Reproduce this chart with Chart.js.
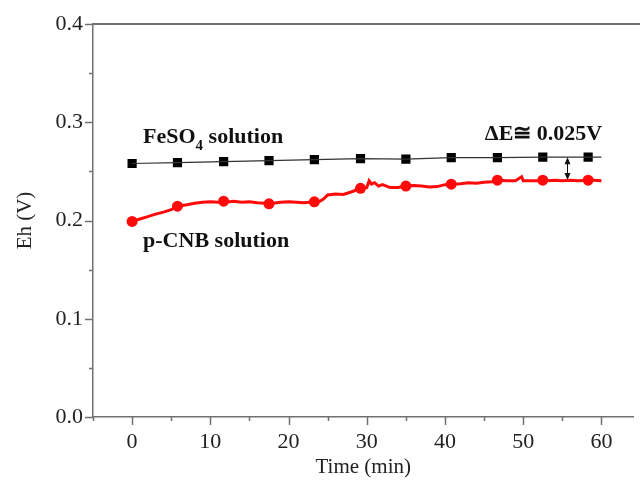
<!DOCTYPE html>
<html>
<head>
<meta charset="utf-8">
<script src="https://cdn.jsdelivr.net/npm/chart.js@4.4.1/dist/chart.umd.min.js"></script>
<style>
  html, body { margin: 0; padding: 0; background: #fff; }
</style>
</head>
<body>
<canvas id="grafico" width="640" height="482"></canvas>
<script>
// Datos
const feTime = [0, 5.8, 11.7, 17.5, 23.3, 29.2, 35, 40.8, 46.7, 52.5, 58.3];
const feEh = [0.258, 0.259, 0.260, 0.261, 0.262, 0.263, 0.2625, 0.264, 0.264, 0.2645, 0.2645];
const feLineTime = [0, 5.8, 11.7, 17.5, 23.3, 29.2, 35, 40.8, 46.7, 52.5, 58.3, 60];
const feLineEh = [0.258, 0.259, 0.260, 0.261, 0.262, 0.263, 0.2625, 0.264, 0.264, 0.2645, 0.2645, 0.2645];

const cnbMarkTime = [0, 5.8, 11.7, 17.5, 23.3, 29.2, 35, 40.8, 46.7, 52.5, 58.3];
const cnbMarkEh = [0.199, 0.2146, 0.2197, 0.217, 0.219, 0.2327, 0.235, 0.237, 0.241, 0.241, 0.241];

const cnbTraceTime = [0, 1, 2, 3, 4, 5, 5.8, 7, 8, 9, 10, 11, 11.7, 12.5, 13, 14, 15, 16, 17, 17.5,
  18.5, 19, 20, 21, 22, 23.3, 24, 24.5, 25, 26, 27, 28, 29.2, 30, 30.3, 30.6, 31, 31.5, 32, 33,
  34, 35, 36, 37, 38, 39, 40, 40.8, 42, 43, 44, 45, 46, 46.7, 48, 49, 49.8, 50, 51, 52,
  52.5, 53, 54, 55, 56, 57, 58.3, 59, 60];
const cnbTraceEh = [0.199, 0.2015, 0.204, 0.2065, 0.2085, 0.211, 0.2146, 0.216, 0.2175, 0.2185, 0.219, 0.2185, 0.2197, 0.219, 0.2195, 0.2185, 0.219, 0.218, 0.2175, 0.217,
  0.218, 0.2185, 0.219, 0.2185, 0.218, 0.219, 0.2195, 0.222, 0.226, 0.227, 0.2265, 0.229, 0.2327, 0.2335, 0.2405, 0.237, 0.2385, 0.235, 0.2365, 0.2335,
  0.2335, 0.235, 0.2355, 0.235, 0.234, 0.2345, 0.2365, 0.237, 0.2375, 0.2385, 0.238, 0.239, 0.2395, 0.241, 0.2405, 0.2405, 0.2445, 0.2405, 0.2405, 0.2405,
  0.241, 0.2405, 0.241, 0.2405, 0.241, 0.2405, 0.241, 0.241, 0.2405];

const xTicks = [-5, 0, 5, 10, 15, 20, 25, 30, 35, 40, 45, 50, 55, 60];
const yTicks = [0, 0.05, 0.1, 0.15, 0.2, 0.25, 0.3, 0.35, 0.4];

const serif = "'Liberation Serif', 'DejaVu Serif', serif";
const ejeColor = "#707070";

function pares(xs, ys) {
  return xs.map((x, i) => ({ x: x, y: ys[i] }));
}

// Plugin para marcas de eje y textos
const extras = {
  id: "extras",
  afterDraw(chart) {
    const ctx = chart.ctx;
    const xs = chart.scales.x, ys = chart.scales.y;
    const area = chart.chartArea;
    ctx.save();
    ctx.strokeStyle = ejeColor;
    ctx.lineWidth = 1.5;
    // marcas eje x
    xTicks.forEach(v => {
      const px = Math.round(xs.getPixelForValue(v)) + 0.5;
      const len = (v % 10 === 0) ? 8 : 4;
      ctx.beginPath();
      ctx.moveTo(px, area.bottom);
      ctx.lineTo(px, area.bottom + len);
      ctx.stroke();
    });
    // marcas eje y
    yTicks.forEach(v => {
      const py = Math.round(ys.getPixelForValue(v)) + 0.5;
      const major = Math.abs(v * 10 - Math.round(v * 10)) < 1e-6;
      const len = major ? 8 : 4;
      ctx.beginPath();
      ctx.moveTo(area.left, py);
      ctx.lineTo(area.left - len, py);
      ctx.stroke();
    });
    // borde superior
    ctx.lineWidth = 2;
    ctx.beginPath();
    ctx.moveTo(area.left, area.top);
    ctx.lineTo(chart.width, area.top);
    ctx.stroke();

    // textos
    ctx.fillStyle = "#111";
    ctx.textBaseline = "alphabetic";
    ctx.textAlign = "left";
    let x0 = xs.getPixelForValue(1.4);
    let y0 = ys.getPixelForValue(0.2789);
    ctx.font = "bold 22px " + serif;
    ctx.fillText("FeSO", x0, y0);
    let w = ctx.measureText("FeSO").width;
    ctx.font = "bold 15px " + serif;
    ctx.fillText("4", x0 + w, y0 + 7);
    let w2 = ctx.measureText("4").width;
    ctx.font = "bold 22px " + serif;
    ctx.fillText(" solution", x0 + w + w2, y0);

    ctx.fillText("p-CNB solution", xs.getPixelForValue(1.4), ys.getPixelForValue(0.173));

    ctx.textAlign = "right";
    ctx.fillText("\u0394E\u2245 0.025V", xs.getPixelForValue(60.1), ys.getPixelForValue(0.2819));

    // flecha doble
    const ax = Math.round(xs.getPixelForValue(55.6)) + 0.5;
    const ay1 = ys.getPixelForValue(0.2645);
    const ay2 = ys.getPixelForValue(0.2412);
    ctx.strokeStyle = "#111";
    ctx.lineWidth = 1;
    ctx.beginPath();
    ctx.moveTo(ax, ay1 + 3);
    ctx.lineTo(ax, ay2 - 3);
    ctx.stroke();
    ctx.beginPath();
    ctx.moveTo(ax, ay1);
    ctx.lineTo(ax - 3, ay1 + 7);
    ctx.lineTo(ax + 3, ay1 + 7);
    ctx.closePath();
    ctx.moveTo(ax, ay2);
    ctx.lineTo(ax - 3, ay2 - 7);
    ctx.lineTo(ax + 3, ay2 - 7);
    ctx.closePath();
    ctx.fill();
    ctx.restore();
  }
};

const ctx = document.getElementById("grafico").getContext("2d");
new Chart(ctx, {
  type: "scatter",
  data: {
    datasets: [
      {
        label: "FeSO4 line",
        data: pares(feLineTime, feLineEh),
        showLine: true,
        borderColor: "#333",
        borderWidth: 1.2,
        pointRadius: 0
      },
      {
        label: "FeSO4",
        data: pares(feTime, feEh),
        showLine: false,
        pointStyle: "rect",
        pointRadius: 6.5,
        backgroundColor: "#000",
        borderColor: "#000",
        borderWidth: 0
      },
      {
        label: "p-CNB trace",
        data: pares(cnbTraceTime, cnbTraceEh),
        showLine: true,
        borderColor: "#ff0a0a",
        borderWidth: 3,
        pointRadius: 0
      },
      {
        label: "p-CNB",
        data: pares(cnbMarkTime, cnbMarkEh),
        showLine: false,
        pointStyle: "circle",
        pointRadius: 5.5,
        backgroundColor: "#ff0a0a",
        borderColor: "#ff0a0a",
        borderWidth: 0
      }
    ]
  },
  options: {
    responsive: false,
    animation: false,
    devicePixelRatio: 1,
    layout: { padding: { top: 24, right: 0, left: 13, bottom: 0 } },
    plugins: { legend: { display: false }, tooltip: { enabled: false } },
    scales: {
      x: {
        type: "linear",
        min: -5,
        max: 64.1,
        afterBuildTicks(s) { s.ticks = xTicks.map(v => ({ value: v })); },
        afterFit(s) { s.height = 65; },
        grid: { display: false, drawTicks: false },
        border: { display: true, color: ejeColor, width: 1.5 },
        ticks: {
          autoSkip: false,
          maxRotation: 0,
          padding: 12,
          color: "#222",
          font: { family: serif, size: 22 },
          callback: v => (v % 10 === 0 && v >= 0) ? String(v) : ""
        },
        title: {
          display: true,
          text: "Time (min)",
          color: "#222",
          font: { family: serif, size: 21 },
          padding: { top: 0, bottom: 2 }
        }
      },
      y: {
        type: "linear",
        min: 0,
        max: 0.4,
        afterBuildTicks(s) { s.ticks = yTicks.map(v => ({ value: v })); },
        afterFit(s) { s.width = 80; },
        grid: { display: false, drawTicks: false },
        border: { display: true, color: ejeColor, width: 1.5 },
        ticks: {
          autoSkip: false,
          padding: 10,
          color: "#222",
          font: { family: serif, size: 22 },
          callback: v => (Math.abs(v * 10 - Math.round(v * 10)) < 1e-6) ? v.toFixed(1) : ""
        },
        title: {
          display: true,
          text: "Eh (V)",
          color: "#222",
          font: { family: serif, size: 21 },
          padding: { top: 0, bottom: 4 }
        }
      }
    }
  },
  plugins: [extras]
});
</script>
</body>
</html>
